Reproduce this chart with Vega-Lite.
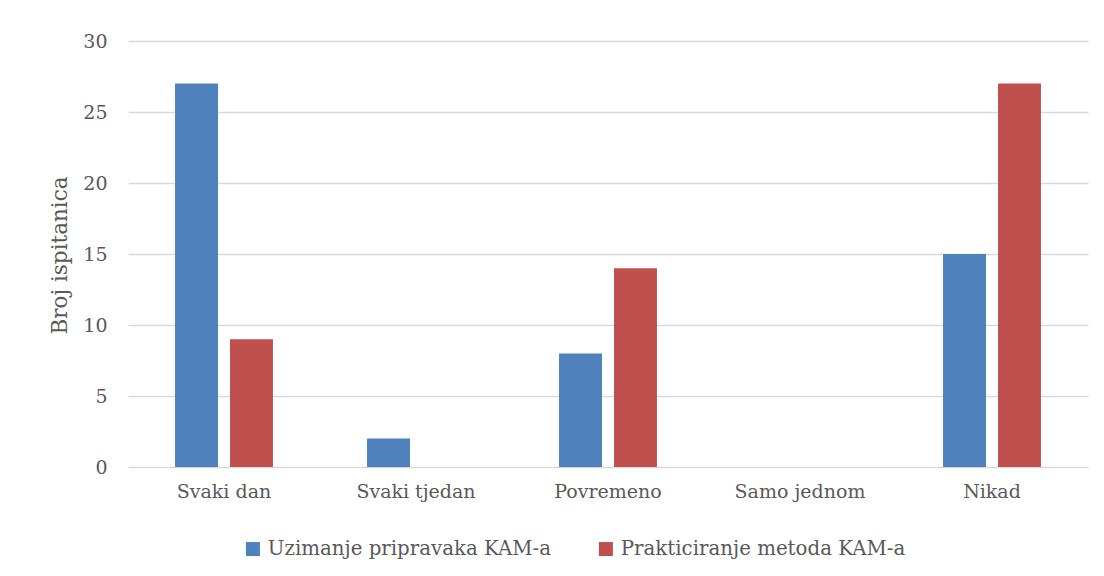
{
  "$schema": "https://vega.github.io/schema/vega-lite/v6.json",
  "autosize": {"type": "none"},
  "padding": {"left": 128, "top": 41, "right": 16, "bottom": 109},
  "width": 960,
  "height": 426,
  "background": "white",
  "config": {
    "font": "DejaVu Serif",
    "view": {"stroke": null},
    "axis": {"labelColor": "#595959", "titleColor": "#595959", "labelFont": "DejaVu Serif", "titleFont": "DejaVu Serif"},
    "legend": {"labelColor": "#595959", "labelFont": "DejaVu Serif"}
  },
  "data": {
    "values": [
      {"kat": "Svaki dan", "serija": "Uzimanje pripravaka KAM-a", "broj": 27},
      {"kat": "Svaki dan", "serija": "Prakticiranje metoda KAM-a", "broj": 9},
      {"kat": "Svaki tjedan", "serija": "Uzimanje pripravaka KAM-a", "broj": 2},
      {"kat": "Svaki tjedan", "serija": "Prakticiranje metoda KAM-a", "broj": 0},
      {"kat": "Povremeno", "serija": "Uzimanje pripravaka KAM-a", "broj": 8},
      {"kat": "Povremeno", "serija": "Prakticiranje metoda KAM-a", "broj": 14},
      {"kat": "Samo jednom", "serija": "Uzimanje pripravaka KAM-a", "broj": 0},
      {"kat": "Samo jednom", "serija": "Prakticiranje metoda KAM-a", "broj": 0},
      {"kat": "Nikad", "serija": "Uzimanje pripravaka KAM-a", "broj": 15},
      {"kat": "Nikad", "serija": "Prakticiranje metoda KAM-a", "broj": 27}
    ]
  },
  "mark": {"type": "bar"},
  "encoding": {
    "x": {
      "field": "kat", "type": "nominal", "sort": null,
      "scale": {"paddingInner": 0.49, "paddingOuter": 0.245},
      "axis": {"title": null, "labelAngle": 0, "labelFontSize": 19, "labelPadding": 15, "ticks": false, "domain": false, "grid": false}
    },
    "xOffset": {
      "field": "serija", "type": "nominal",
      "sort": ["Uzimanje pripravaka KAM-a", "Prakticiranje metoda KAM-a"],
      "scale": {"paddingInner": 0.218, "paddingOuter": 0}
    },
    "y": {
      "field": "broj", "type": "quantitative",
      "scale": {"domain": [0, 30], "nice": false},
      "axis": {
        "title": "Broj ispitanica", "titleFontSize": 21.5, "titleFontWeight": "normal",
        "titleX": -68, "titleY": 214, "titleAngle": -90, "titleBaseline": "middle", "titleAlign": "center",
        "values": [0, 5, 10, 15, 20, 25, 30],
        "labelFontSize": 19, "labelPadding": 21, "ticks": false, "domain": false,
        "grid": true, "gridColor": "#D9D9D9", "gridWidth": 1.3
      }
    },
    "color": {
      "field": "serija", "type": "nominal",
      "sort": ["Uzimanje pripravaka KAM-a", "Prakticiranje metoda KAM-a"],
      "scale": {"range": ["#4F81BD", "#C0504D"]},
      "legend": {
        "title": null, "orient": "none", "direction": "horizontal",
        "legendX": 115, "legendY": 498,
        "symbolType": "square", "symbolSize": 196, "symbolStrokeWidth": 0,
        "labelFontSize": 19.8, "labelLimit": 400, "columnPadding": 44, "labelOffset": 5
      }
    }
  }
}
